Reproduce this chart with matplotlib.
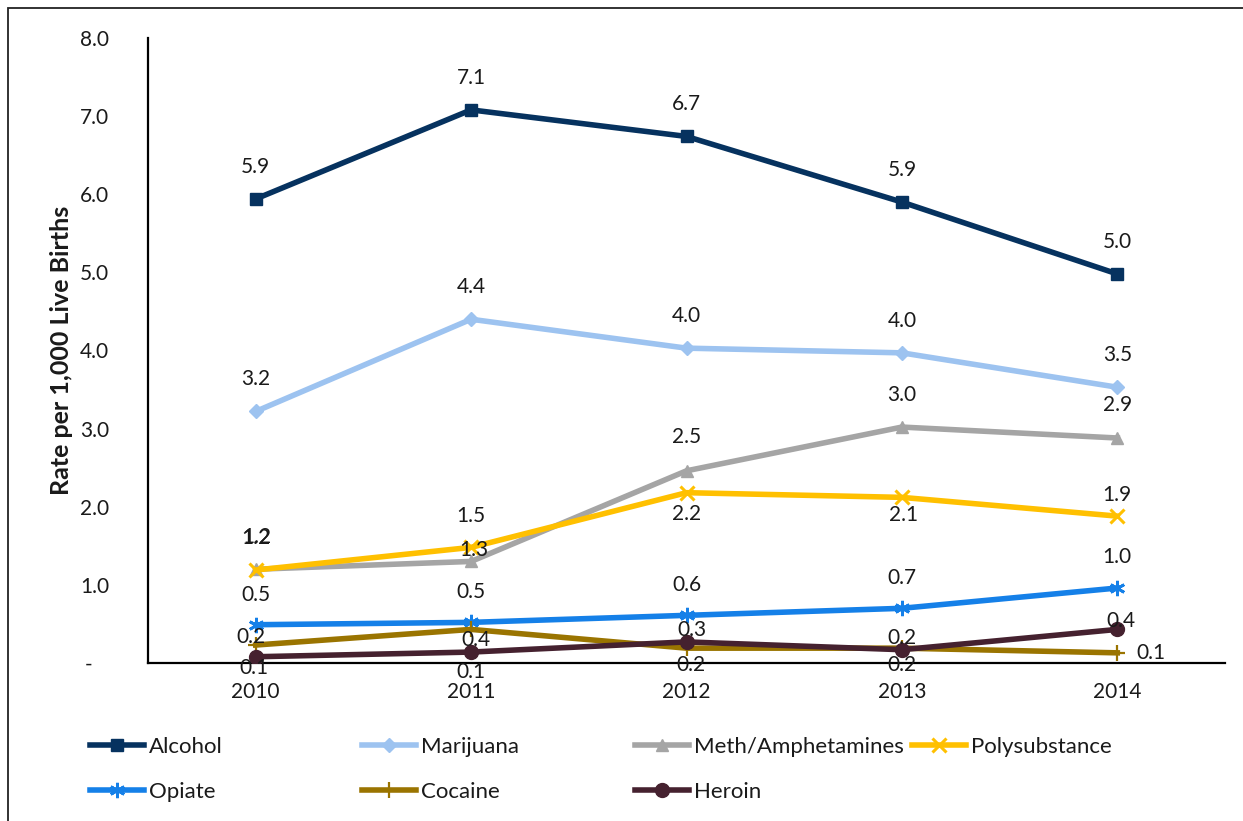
import matplotlib
matplotlib.use("Agg")
import matplotlib.pyplot as plt
from matplotlib.lines import Line2D
from matplotlib.patches import Rectangle
from matplotlib.ticker import FuncFormatter

plt.rcParams["font.family"] = ["Lato", "DejaVu Sans"]

years = ["2010", "2011", "2012", "2013", "2014"]

alcohol = [5.94, 7.08, 6.74, 5.90, 4.98]
marijuana = [3.22, 4.40, 4.03, 3.97, 3.53]
meth = [1.20, 1.30, 2.46, 3.02, 2.88]
poly = [1.19, 1.48, 2.18, 2.12, 1.88]
opiate = [0.49, 0.52, 0.61, 0.70, 0.96]
cocaine = [0.23, 0.43, 0.19, 0.19, 0.13]
heroin = [0.08, 0.14, 0.27, 0.17, 0.43]

series_names = ["Alcohol", "Marijuana", "Meth/Amphetamines", "Polysubstance",
                "Opiate", "Cocaine", "Heroin"]
series_values = [alcohol, marijuana, meth, poly, opiate, cocaine, heroin]

colors = ["#06325F", "#9DC3F0", "#A5A5A5", "#FFC000",
          "#1580E8", "#9A7400", "#45212F"]
markers = ["s", "D", "^", "x", (6, 2, 0), "+", "o"]
msizes = [9, 7, 9, 10, 11, 12, 10]
mew = [1, 1, 1, 2.2, 2.0, 1.6, 1]

# data-label offsets in pixels (dx, dy) for each series / year
label_offsets = [
    [(0, 32)] * 5,
    [(0, 32)] * 5,
    [(0, 31), (3, 11), (0, 34), (0, 32), (0, 33)],
    [(1, 33), (0, 31), (0, -21), (2, -18), (0, 21)],
    [(0, 30), (0, 30), (0, 30), (0, 30), (0, 31)],
    [(-5, 8), (5, -11), (4, -17), (0, -17), (34, 0)],
    [(-2, -11), (0, -20), (5, 12), (0, 12), (4, 8)],
]

W, H = 1243, 821
fig = plt.figure(figsize=(W / 100, H / 100), dpi=100)
ax = fig.add_axes([148 / W, 1 - 663 / H, (1225 - 148) / W, (663 - 38) / H])

x = list(range(len(years)))
handles = []
for name, vals, c, m, ms, ew, offs in zip(series_names, series_values, colors,
                                          markers, msizes, mew, label_offsets):
    ax.plot(x, vals, color=c, lw=4.0, marker=m, markersize=ms,
            markeredgewidth=ew, markeredgecolor=c, markerfacecolor=c,
            solid_joinstyle="miter", zorder=3)
    handles.append(Line2D([], [], color=c, lw=4.0, marker=m, markersize=ms,
                          markeredgewidth=ew, markeredgecolor=c,
                          markerfacecolor=c))
    for xi, v, (dx, dy) in zip(x, vals, offs):
        ax.annotate(f"{v:.1f}", (xi, v), xytext=(dx, dy),
                    textcoords="offset pixels", ha="center", va="center",
                    fontsize=15, color="#1a1a1a", zorder=5)

ax.set_xlim(-0.5, 4.5)
ax.set_ylim(0, 8)
ax.set_yticks(range(0, 9))
ax.yaxis.set_major_formatter(
    FuncFormatter(lambda v, p: "-   " if v == 0 else f"{v:.1f}"))
ax.set_xticks(x)
ax.set_xticklabels(years)
ax.tick_params(axis="both", length=0, labelsize=15, colors="#1a1a1a")
ax.tick_params(axis="y", pad=28)
ax.tick_params(axis="x", pad=14)
for s in ["top", "right"]:
    ax.spines[s].set_visible(False)
for s in ["left", "bottom"]:
    ax.spines[s].set_linewidth(1.6)
    ax.spines[s].set_color("black")

fig.text(62 / W, 1 - 350 / H, "Rate per 1,000 Live Births", rotation=90,
         ha="center", va="center", fontsize=18, fontweight="bold",
         color="#1a1a1a")

# legend laid out in a fixed grid
col_x = [90, 362, 635, 912]
row_y = [747, 792]
for i, (h, name) in enumerate(zip(handles, series_names)):
    r, cidx = divmod(i, 4)
    fig.legend(handles=[h], labels=[name], loc="center left",
               bbox_to_anchor=(col_x[cidx] / W, 1 - row_y[r] / H),
               frameon=False, borderpad=0, borderaxespad=0,
               handlelength=2.45, handletextpad=0.22, fontsize=16,
               labelcolor="#1a1a1a")

fig.patches.append(Rectangle((8 / W, -0.05), 1.1, 1 - 8 / H + 0.05,
                             transform=fig.transFigure, fill=False,
                             edgecolor="#222222", lw=1.3))

fig.savefig("out.png", dpi=100)
